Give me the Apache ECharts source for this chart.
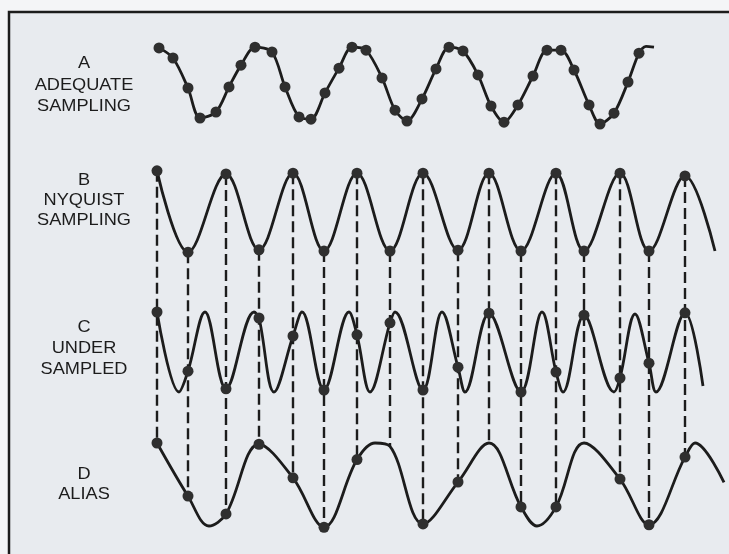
<!DOCTYPE html>
<html>
<head>
<meta charset="utf-8">
<script src="https://cdn.jsdelivr.net/npm/echarts@6/dist/echarts.min.js"></script>
<style>
html,body{margin:0;padding:0;background:#f4f5f7;}
#main{width:729px;height:554px;}
</style>
</head>
<body>
<div id="main"></div>
<script>
// sampling instants shared by B, C and D (time units, first sample = 0)
var sampleTimes = [0, 31, 69, 102, 136, 167, 200, 233, 266, 301, 332, 364, 399, 427, 463, 492, 528];

// A - adequate sampling: [time, amplitude] of every dot
var adequateSamples = [[2, 0.95], [16, 0.68], [31, -0.12], [43, -0.92], [59, -0.76], [72, -0.09], [84, 0.49],
    [98, 0.97], [115, 0.84], [128, -0.09], [142, -0.89], [154, -0.95], [168, -0.25], [182, 0.41],
    [195, 0.97], [209, 0.89], [225, 0.15], [238, -0.71], [250, -1.0], [265, -0.41], [279, 0.39],
    [292, 0.97], [306, 0.87], [321, 0.23], [334, -0.6], [347, -1.03], [361, -0.57], [376, 0.2],
    [390, 0.89], [404, 0.89], [417, 0.36], [432, -0.57], [443, -1.08], [457, -0.79], [471, 0.04], [482, 0.81]];
// little hook where the pen left the paper
var adequateTail = [[489, 0.99], [497, 0.97]];

// B - nyquist sampling, value at each sample instant
var nyquistValues = [1.03, -1.03, 0.95, -0.97, 0.97, -1.0, 0.97, -1.0, 0.97, -0.98, 0.97, -1.0, 0.97, -1.0, 0.97, -1.0, 0.9];
var nyquistEnd = [[558, -1.0]];

// C - under sampled, value at each sample instant + turning points in between
var underValues = [1.0, -0.48, -0.92, 0.85, 0.4, -0.95, 0.43, 0.73, -0.95, -0.38, 0.97, -1.0, -0.5, 0.92, -0.65, -0.28, 0.98];
var underTurns = [[22, -1.0], [48, 1.0], [97, 1.0], [117, -1.0], [145, 1.0], [192, 1.0], [213, -1.0], [238, 1.0],
    [285, 1.0], [308, -1.0], [385, 1.0], [406, -1.0], [457, -1.0], [478, 0.95], [499, -1.0], [546, -0.85]];

// D - alias
var aliasValues = [1.0, -0.28, -0.71, 0.97, 0.16, -1.03, 0.6, 0.92, -0.95, 0.06, 1.0, -0.54, -0.54, 1.0, 0.13, -0.97, 0.66];
var aliasTurns = [[52, -1.0], [218, 1.0], [380, -1.0], [538, 1.0], [567, 0.05]];
var aliasNoDot = [7, 10, 13];

var panelLabels = [
    ["A", "ADEQUATE", "SAMPLING"],
    ["B", "NYQUIST", "SAMPLING"],
    ["C", "UNDER", "SAMPLED"],
    ["D", "ALIAS"]
];

// layout of the four strips
var panelTop = [46, 172, 312, 443];
var panelHeight = [75, 79, 80, 83];
var labelY = [[63, 85, 106], [180, 200, 220], [327, 348, 369], [474, 494]];

var ink = "#1c1c1c";
var dotInk = "#2f2f2f";

var pairs = function(times, values){
    return times.map(function(t, i){ return [t, values[i]]; });
};
var merged = function(a, b){
    return a.concat(b).sort(function(p, q){ return p[0] - q[0]; });
};

var grids = [], xAxes = [], yAxes = [];
for (var g = 0; g < 4; g++) {
    grids.push({left: 157, right: 0, top: panelTop[g], height: panelHeight[g]});
    xAxes.push({type: "value", gridIndex: g, min: 0, max: 572, show: false});
    yAxes.push({type: "value", gridIndex: g, min: -1, max: 1, show: false});
}

var curve = function(idx, data, smooth){
    return {
        type: "line", xAxisIndex: idx, yAxisIndex: idx, data: data, smooth: smooth,
        showSymbol: false, clip: false, silent: true, z: 3,
        lineStyle: {color: ink, width: 2.8}
    };
};
var dots = function(idx, data){
    return {
        type: "scatter", xAxisIndex: idx, yAxisIndex: idx, data: data, clip: false, silent: true,
        symbol: "circle", symbolSize: 11, z: 4,
        itemStyle: {color: dotInk, opacity: 1}
    };
};

var aliasDots = pairs(sampleTimes, aliasValues).filter(function(p, i){ return aliasNoDot.indexOf(i) < 0; });

var series = [
    curve(0, adequateSamples.concat(adequateTail), 0.3),
    dots(0, adequateSamples),
    curve(1, pairs(sampleTimes, nyquistValues).concat(nyquistEnd), 0.36),
    dots(1, pairs(sampleTimes, nyquistValues)),
    curve(2, merged(pairs(sampleTimes, underValues), underTurns), 0.36),
    dots(2, pairs(sampleTimes, underValues)),
    curve(3, merged(pairs(sampleTimes, aliasValues), aliasTurns), 0.36),
    dots(3, aliasDots)
];

// frame + labels
var baseGraphic = [{
    type: "rect", id: "frame", z: 0,
    shape: {x: 9, y: 12, width: 760, height: 580},
    style: {fill: "#e8ebef", stroke: ink, lineWidth: 2.5}
}];
panelLabels.forEach(function(lines, p){
    lines.forEach(function(txt, j){
        baseGraphic.push({
            type: "text", id: "lab" + p + "_" + j, z: 5,
            x: 84, y: labelY[p][j], scaleX: 1.07,
            style: {
                text: txt, fill: ink, textAlign: "center", textVerticalAlign: "middle",
                font: "17px 'Liberation Sans', Arial, Helvetica, sans-serif"
            }
        });
    });
});

var chart = echarts.init(document.getElementById("main"));
chart.setOption({
    animation: false,
    grid: grids,
    xAxis: xAxes,
    yAxis: yAxes,
    series: series,
    graphic: {elements: baseGraphic}
});

// dashed drop lines from each B sample down to the matching D sample
var dashes = sampleTimes.map(function(t, i){
    var from = chart.convertToPixel({gridIndex: 1}, [t, nyquistValues[i]]);
    var to = chart.convertToPixel({gridIndex: 3}, [t, aliasValues[i]]);
    return {
        type: "line", id: "dash" + i, z: 2,
        shape: {x1: from[0], y1: from[1], x2: to[0], y2: to[1]},
        style: {stroke: ink, lineWidth: 2.4, lineDash: [11, 5]}
    };
});
chart.setOption({graphic: {elements: baseGraphic.concat(dashes)}});
</script>
</body>
</html>
